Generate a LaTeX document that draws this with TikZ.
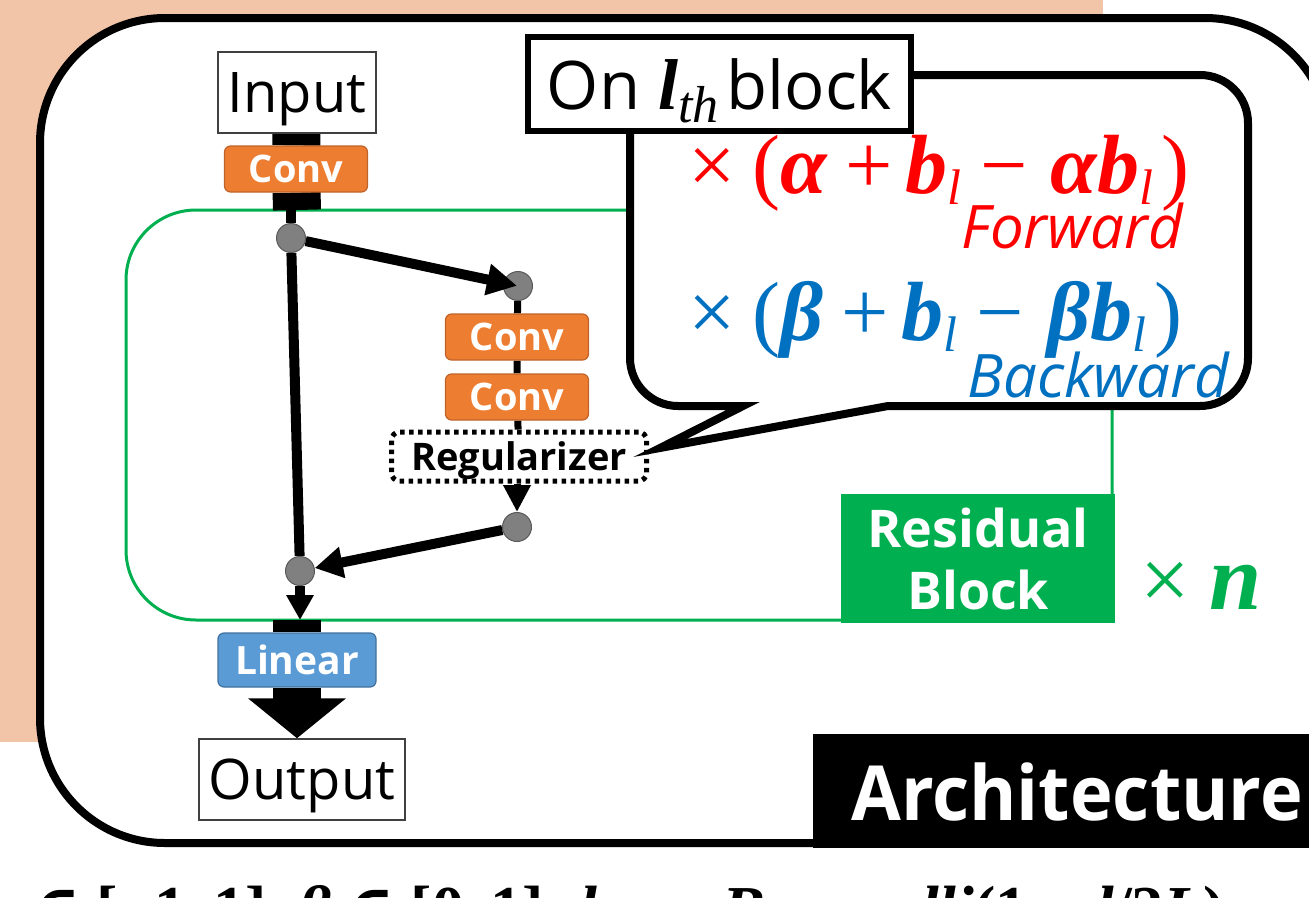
\documentclass[tikz,border=0pt]{standalone}
\usepackage{fontspec}
\setmainfont{Open Sans}
\newfontfamily\mfont{Liberation Serif}
\newfontfamily\symfnt{DejaVu Serif}
\usetikzlibrary{arrows.meta}

\definecolor{salmon}{HTML}{F2C4A8}
\definecolor{convorange}{HTML}{ED7D31}
\definecolor{convedge}{HTML}{C0632A}
\definecolor{linblue}{HTML}{5B9BD5}
\definecolor{linedge}{HTML}{41719C}
\definecolor{resgreen}{HTML}{00B050}
\definecolor{fwdred}{HTML}{FF0000}
\definecolor{bwdblue}{HTML}{0070C0}

\newcommand{\fsz}[1]{\fontsize{#1}{#1}\selectfont}
\newcommand{\bmi}[1]{{\bfseries\itshape #1}}
\newcommand{\lsub}{\raisebox{-11pt}{\fsz{50}\itshape l}}

\pgfdeclarelayer{back}
\pgfdeclarelayer{mid}
\pgfsetlayers{back,mid,main}

\tikzset{
  iobox/.style={draw=black!75, line width=1.5pt, fill=white, inner sep=0pt,
    minimum width=158pt, minimum height=81pt, text depth=0pt, font=\fsz{56}},
  convbox/.style={draw=convedge, line width=1.2pt, fill=convorange, rounded corners=6pt,
    minimum width=143pt, minimum height=46pt, inner sep=0pt, text depth=0pt,
    text=white, font=\fsz{38}\bfseries},
  linbox/.style={convbox, draw=linedge, fill=linblue, minimum width=158pt, minimum height=54pt, font=\fsz{39}\bfseries},
  regbox/.style={draw=black, line width=5pt, dash pattern=on 4.5pt off 4.5pt, rounded corners=8pt,
    fill=white, minimum width=255pt, minimum height=49pt, inner sep=0pt, text depth=0pt,
    font=\fsz{38}\bfseries},
  dot/.style={circle, draw=black!65, line width=1pt, fill=gray, minimum size=29pt, inner sep=0pt},
  bar/.style={line width=48pt, black},
  flowline/.style={line width=10pt, black},
  thinline/.style={line width=7pt, black},
}

\begin{document}
\begin{tikzpicture}[x=1pt,y=-1pt]
\useasboundingbox (0,0) rectangle (1309,897);
\clip (0,0) rectangle (1309,897);

% frame and residual group outline
\begin{pgfonlayer}{back}
  \fill[white] (0,0) rectangle (1309,897);
  \fill[salmon] (0,0) rectangle (1103,742);
  \draw[line width=8pt, fill=white, rounded corners=125pt] (40,18) rectangle (1330,843);
  \draw[resgreen, line width=3pt, rounded corners=70pt] (126,210) rectangle (1112,620);
\end{pgfonlayer}

% blocks of the network
\node[iobox] (input) at (297,92.5) {Input};
\node[convbox] (conv1) at (296,169) {Conv};
\node[dot] (n1) at (291,238) {};
\node[dot] (n2) at (518,286) {};
\node[convbox] (conv2) at (517,337) {Conv};
\node[convbox] (conv3) at (517,397) {Conv};
\node[regbox] (reg) at (519,456.5) {Regularizer};
\node[dot] (n3) at (517,527) {};
\node[dot] (merge) at (300,571) {};
\node[linbox] (linear) at (297,660) {Linear};
\node[iobox, minimum width=206pt, minimum height=81pt] (output) at (302,779.5) {Output};

\coordinate (gtop) at (297,210);
\coordinate (gbot) at (297,620);

% connectors behind the blocks
\begin{pgfonlayer}{mid}
  \draw[bar] (input) -- (conv1) -- (gtop);
  \draw[bar] (gbot) -- (linear);
  \draw[bar, -{Triangle[width=96pt,length=40pt]}] (linear) -- (linear |- output.north);
  \draw[flowline] (gtop -| n1) -- (n1);
  \draw[flowline] (n1) -- (merge);
  \draw[thinline] (n2) -- (conv2) -- (conv3) -- (reg);
\end{pgfonlayer}

% arrows over the junction dots
\draw[flowline, -{Triangle[width=30pt,length=30pt]}, shorten >=1pt] (n1) -- (n2.center);
\draw[flowline, -{Triangle[width=30pt,length=28pt]}] (n3) -- (merge);
\draw[flowline, -{Triangle[width=26pt,length=25pt]}] (merge) -- (merge |- gbot);
\draw[thinline, -{Triangle[width=26pt,length=27pt]}] (reg.south -| n3) -- (n3.north);

% speech bubble with the scaling factors
\draw[line width=8pt, fill=white, line join=miter]
  (900,75) [rounded corners=48pt] -- (1248,75) -- (1248,406) -- (1000,406)
  [sharp corners] -- (888,406) -- (660,448) -- (743,406) -- (700,406)
  [rounded corners=48pt] -- (630,406) -- (630,75) -- cycle;

\node[draw, line width=6pt, fill=white, minimum width=383pt, minimum height=94pt,
  inner sep=0pt, text depth=0pt, font=\fsz{67}] (onbox) at (719.5,84)
  {On\hspace{18pt}{\mfont\fsz{72}\bmi{l}\raisebox{-13pt}{\fsz{52}\itshape th}}\hspace{8pt}block};

\node[anchor=base west, inner sep=0pt, text=fwdred] (fwdf) at (688,193)
  {\mfont\fsz{84}×\hspace{17pt}(\bmi{α}\hspace{18pt}+\hspace{13pt}\bmi{b}\lsub\hspace{19pt}−\hspace{23pt}\bmi{αb}\lsub\hspace{8pt})};
\node[anchor=base east, inner sep=0pt, text=fwdred, font=\fsz{60}\itshape] (fwd) at (1183,248) {Forward};

\node[anchor=base west, inner sep=0pt, text=bwdblue] (bwdf) at (688,340)
  {\mfont\fsz{84}×\hspace{17pt}(\bmi{β}\hspace{18pt}+\hspace{13pt}\bmi{b}\lsub\hspace{19pt}−\hspace{23pt}\bmi{βb}\lsub\hspace{8pt})};
\node[anchor=base east, inner sep=0pt, text=bwdblue, font=\fsz{60}\itshape] (bwd) at (1229,397) {Backward};

% residual block label and repetition count
\node[fill=resgreen, anchor=north west, minimum width=274pt, minimum height=129pt, inner sep=0pt,
  text=white, align=center, font=\fontsize{52}{62}\selectfont\bfseries] (res) at (841,494) {Residual\\Block};
\node[anchor=base west, inner sep=0pt, text=resgreen] (rep) at (1140,609)
  {\mfont\fsz{88}×\hspace{20pt}{\fsz{94}\bmi{n}}};

% title tag
\node[fill=black, anchor=north west, minimum height=114pt, inner xsep=38pt, inner ysep=0pt,
  text depth=0pt, text=white, font=\fsz{76}\bfseries] (arch) at (813,734) {\scalebox{0.95}[1]{Architecture}};

% parameter ranges along the lower edge
\node[anchor=base west, inner sep=0pt] (cond) at (-18,930)
  {\mfont\bfseries\fsz{64}\itshape α {\symfnt\upshape ∈} {\upshape[−1,\,1],} β {\symfnt\upshape ∈} {\upshape[0,\,1],}\hspace{20pt}b\raisebox{-10pt}{\fsz{44}l} \hspace{6pt}{\symfnt\upshape ∼}\hspace{6pt} Bernoulli{\upshape(1 − }l{\upshape/2}L{\upshape)}};
\end{tikzpicture}
\end{document}
